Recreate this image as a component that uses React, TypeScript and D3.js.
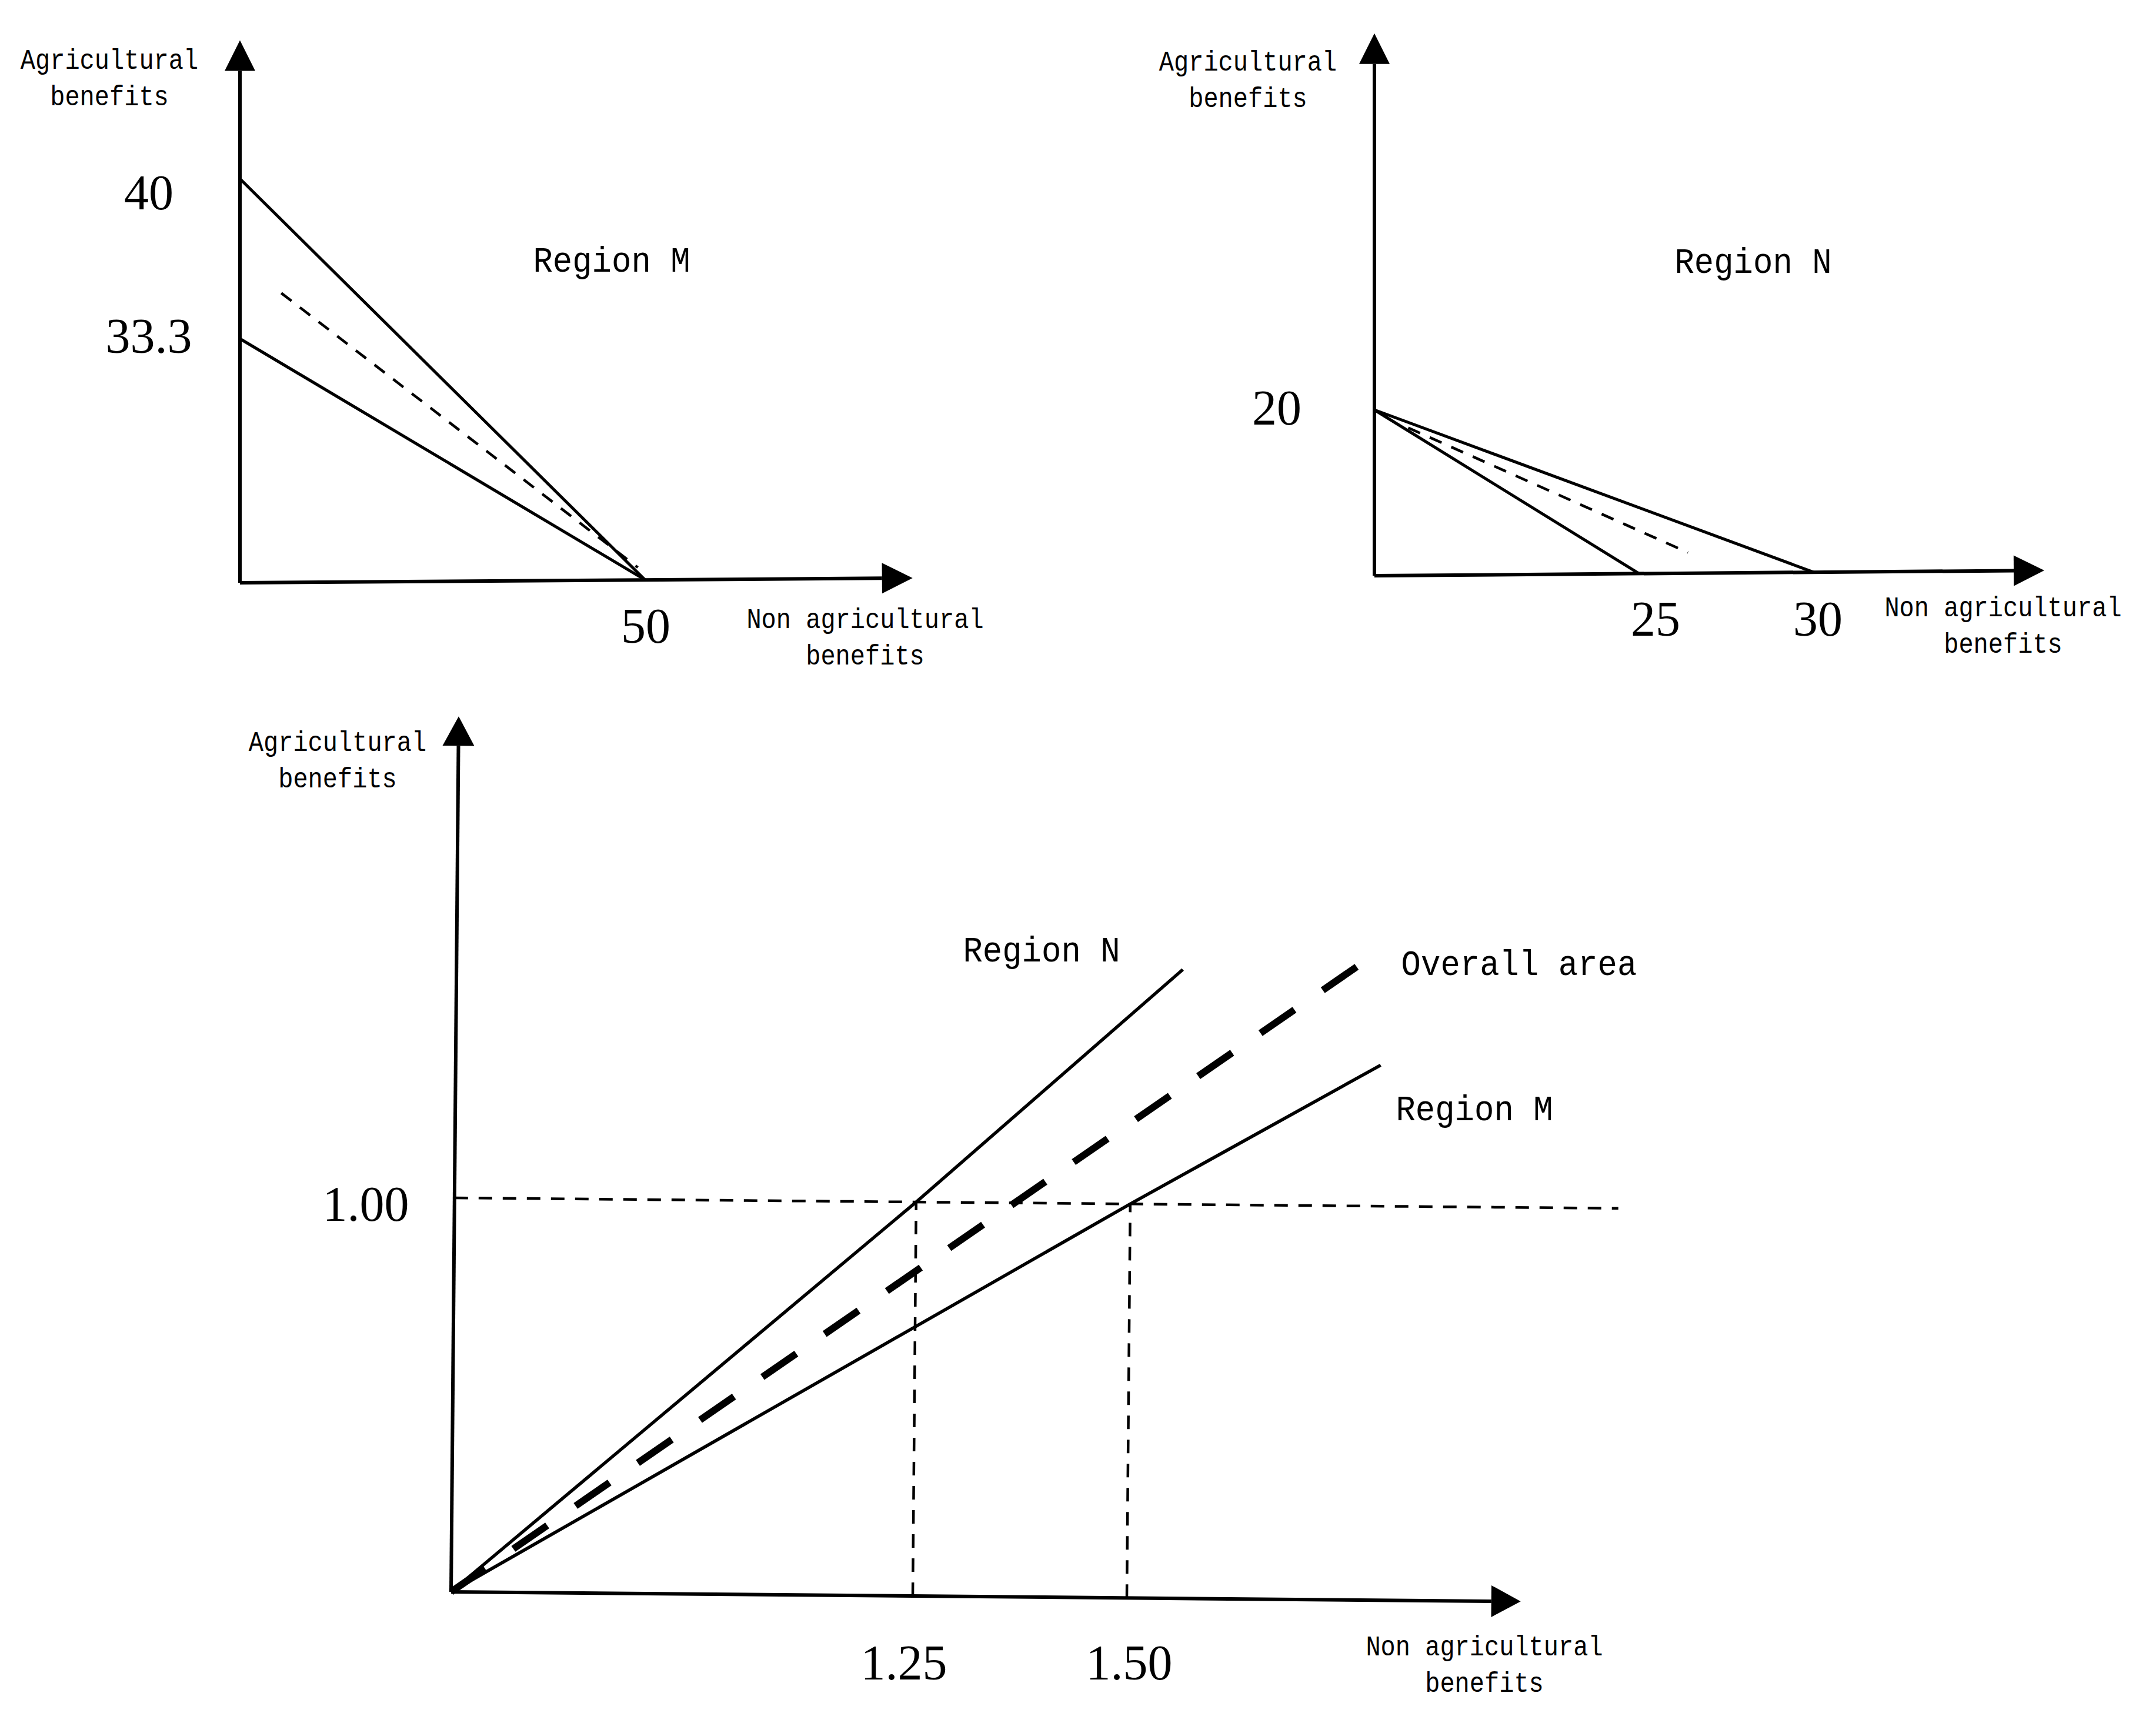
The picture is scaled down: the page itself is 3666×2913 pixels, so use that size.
import React from 'react';
import * as d3 from 'd3';

const W = 3666, H = 2913;

type Pt = { x: number; y: number };

// Region M panel (top left)
const mYTicks = [40, 33.3];
const mXTicks = [50];
const mLine40: Pt[] = [{ x: 0, y: 40 }, { x: 50, y: 0 }];
const mLine33: Pt[] = [{ x: 0, y: 33.3 }, { x: 50, y: 0 }];
const mMid: Pt[] = [{ x: 5.1, y: 35.2 }, { x: 49.1, y: 1.7 }];

// Region N panel (top right)
const nYTicks = [20];
const nXTicks = [25, 30];
const nLine25: Pt[] = [{ x: 0, y: 20 }, { x: 25, y: 0 }];
const nLine30: Pt[] = [{ x: 0, y: 20 }, { x: 30, y: 0 }];
const nMid: Pt[] = [{ x: 3.2, y: 17.8 }, { x: 26.4, y: 2.5 }];

// comparison panel (bottom)
const cXTicks = [1.25, 1.5];
const cYTicks = [1];
const cRegionN: Pt[] = [{ x: 0, y: 0 }, { x: 1.25, y: 1 }, { x: 1.559, y: 1.596 }];
const cRegionM: Pt[] = [{ x: 0, y: 0 }, { x: 1.5, y: 1 }, { x: 1.791, y: 1.358 }];
const cOverall: Pt[] = [{ x: 0, y: 0 }, { x: 1.762, y: 1.607 }];
const cLevel: Pt[] = [{ x: 0, y: 1 }, { x: 2.07, y: 1 }];

const AXIS_TITLE_Y = ['Agricultural', 'benefits'];
const AXIS_TITLE_X = ['Non agricultural', 'benefits'];

const MONO = '"Liberation Mono", "DejaVu Sans Mono", monospace';
const SERIF = '"Liberation Serif", "DejaVu Serif", serif';

// hand drawn figure: axes are a little tilted, so skew around the origin
function frame(x: any, y: any, kx: number, ky: number) {
  const ox = x(0), oy = y(0);
  return (d: Pt): [number, number] => {
    const px = x(d.x), py = y(d.y);
    return [px + kx * (oy - py), py + ky * (px - ox)];
  };
}

const Arrow = ({ from, to, len = 52, wid = 52 }) => {
  const dx = to[0] - from[0], dy = to[1] - from[1];
  const L = Math.hypot(dx, dy);
  const ux = dx / L, uy = dy / L;
  const bx = to[0] - ux * len, by = to[1] - uy * len;
  const nx = -uy * wid / 2, ny = ux * wid / 2;
  return (
    <g>
      <line x1={from[0]} y1={from[1]} x2={bx} y2={by} stroke="#000" strokeWidth={6} />
      <path d={`M${to[0]},${to[1]}L${bx + nx},${by + ny}L${bx - nx},${by - ny}Z`} fill="#000" />
    </g>
  );
};

// narrow monospaced labels, like the source's half-width latin glyphs
const Label = ({ x, y, text, size, charW }) => (
  <text x={x} y={y} fontFamily={MONO} fontSize={size} textAnchor="middle"
    textLength={text.length * charW} lengthAdjust="spacingAndGlyphs" fill="#000">{text}</text>
);

const Num = ({ x, y, text }) => (
  <text x={x} y={y} fontFamily={SERIF} fontSize={84} textAnchor="middle" fill="#000">{text}</text>
);

const TwoLines = ({ x, y, lines }) => (
  <g>
    <Label x={x} y={y} text={lines[0]} size={48} charW={25.2} />
    <Label x={x} y={y + 62} text={lines[1]} size={48} charW={25.2} />
  </g>
);

const pathOf = (p) => d3.line<Pt>().x(d => p(d)[0]).y(d => p(d)[1]);

const App = () => {
  // top left
  const mx = d3.scaleLinear().domain([0, 50]).range([408, 1097]);
  const my = d3.scaleLinear().domain([0, 33.3, 40]).range([991, 576, 304]);
  const pm = frame(mx, my, 0, -0.007);
  const lm = pathOf(pm);

  // top right
  const nx = d3.scaleLinear().domain([0, 25, 30]).range([2337, 2787, 3084]);
  const ny = d3.scaleLinear().domain([0, 20]).range([979, 697]);
  const pn = frame(nx, ny, 0, -0.0079);
  const ln = pathOf(pn);

  // bottom
  const cx = d3.scaleLinear().domain([0, 1.25, 1.5]).range([767, 1552, 1916]);
  const cy = d3.scaleLinear().domain([0, 1]).range([2707, 2037]);
  const pc = frame(cx, cy, 0.0087, 0.009);
  const lc = pathOf(pc);

  // thick dashes: spread them so the line starts and ends on a dash
  const o0 = pc(cOverall[0]), o1 = pc(cOverall[cOverall.length - 1]);
  const oLen = Math.hypot(o1[0] - o0[0], o1[1] - o0[1]);
  const dash = 70;
  const nDash = Math.round((oLen + 57) / (dash + 57));
  const gap = (oLen - nDash * dash) / (nDash - 1);

  const fmt2 = d3.format('.2f');
  const solid = { fill: 'none', stroke: '#000', strokeWidth: 5 };
  const thinDash = { fill: 'none', stroke: '#000', strokeWidth: 4.5, strokeDasharray: '22 18' };

  const yLabelDy: Record<string, number> = { '40': 52, '33.3': 24 };

  return (
    <svg width={W} height={H} style={{ position: 'fixed', left: 0, top: 0, background: '#fff' }}>
      <rect width={W} height={H} fill="#fff" />

      {/* Region M */}
      <g>
        <Arrow from={pm({ x: 0, y: 0 })} to={pm({ x: 83, y: 0 })} />
        <Arrow from={pm({ x: 0, y: 0 })} to={pm({ x: 0, y: 45.8 })} />
        <path d={lm(mLine40)} {...solid} />
        <path d={lm(mLine33)} {...solid} />
        <path d={lm(mMid)} {...thinDash} />
        {mYTicks.map(v => (
          <Num key={v} x={mx(0) - 155} y={my(v) + yLabelDy[String(v)]} text={String(v)} />
        ))}
        {mXTicks.map(v => (
          <Num key={v} x={mx(v) + 1} y={my(0) + 102} text={String(v)} />
        ))}
        <TwoLines x={186} y={117} lines={AXIS_TITLE_Y} />
        <TwoLines x={1471} y={1068} lines={AXIS_TITLE_X} />
        <Label x={1040} y={462} text="Region M" size={61} charW={33.4} />
      </g>

      {/* Region N */}
      <g>
        <Arrow from={pn({ x: 0, y: 0 })} to={pn({ x: 36.6, y: 0 })} />
        <Arrow from={pn({ x: 0, y: 0 })} to={pn({ x: 0, y: 65.4 })} />
        <path d={ln(nLine25)} {...solid} />
        <path d={ln(nLine30)} {...solid} />
        <path d={ln(nMid)} {...thinDash} />
        {nYTicks.map(v => (
          <Num key={v} x={nx(0) - 166} y={ny(v) + 25} text={String(v)} />
        ))}
        {nXTicks.map((v, i) => (
          <Num key={v} x={nx(v) + (i === 0 ? 28 : 7)} y={ny(0) + 102} text={String(v)} />
        ))}
        <TwoLines x={2122} y={120} lines={AXIS_TITLE_Y} />
        <TwoLines x={3406} y={1048} lines={AXIS_TITLE_X} />
        <Label x={2981} y={464} text="Region N" size={61} charW={33.4} />
      </g>

      {/* comparison */}
      <g>
        <Arrow from={pc({ x: 0, y: 0 })} to={pc({ x: 1.96, y: 0 })} len={50} wid={54} />
        <Arrow from={pc({ x: 0, y: 0 })} to={pc({ x: 0, y: 2.222 })} len={50} wid={54} />
        <path d={lc(cLevel)} {...thinDash} strokeDasharray="23 18" />
        {cXTicks.map(v => (
          <path key={v} d={lc([{ x: v, y: 0 }, { x: v, y: cYTicks[0] }])} {...thinDash} strokeDasharray="23 18" />
        ))}
        <path d={lc(cRegionN)} {...solid} strokeWidth={5.5} />
        <path d={lc(cRegionM)} {...solid} strokeWidth={5.5} />
        <path d={lc(cOverall)} fill="none" stroke="#000" strokeWidth={12} strokeDasharray={`${dash} ${gap}`} />
        {cYTicks.map(v => (
          <Num key={v} x={cx(0) - 145} y={cy(v) + 39} text={fmt2(v)} />
        ))}
        {cXTicks.map((v, i) => (
          <Num key={v} x={cx(v) + (i === 0 ? -15 : 4)} y={cy(0) + 149} text={fmt2(v)} />
        ))}
        <TwoLines x={574} y={1277} lines={AXIS_TITLE_Y} />
        <TwoLines x={2524} y={2815} lines={AXIS_TITLE_X} />
        <Label x={1771} y={1635} text="Region N" size={61} charW={33.4} />
        <Label x={2583} y={1658} text="Overall area" size={61} charW={33.4} />
        <Label x={2507} y={1905} text="Region M" size={61} charW={33.4} />
      </g>
    </svg>
  );
};

export default App;
